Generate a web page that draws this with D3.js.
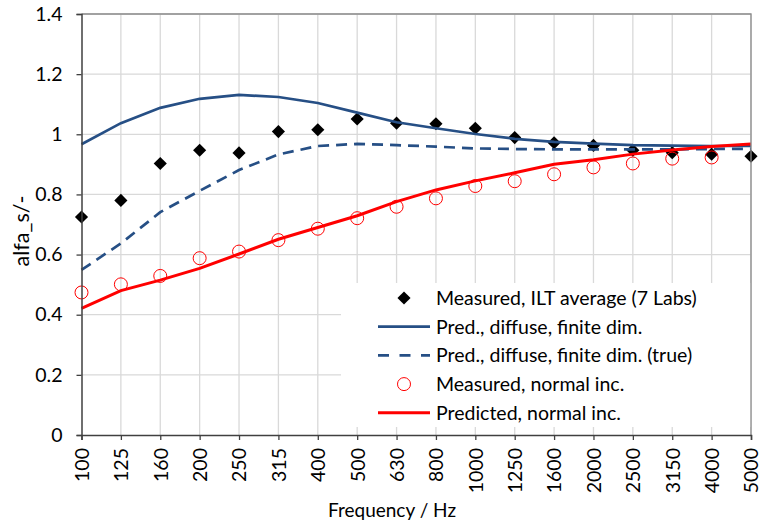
<!DOCTYPE html>
<html>
  <head>
    <meta charset="utf-8">
    <script src="https://d3js.org/d3.v7.min.js"></script>
    <style>
      body { margin: 0; background: #fff; }
      text { font-family: Lato, "Open Sans", sans-serif; fill: #000; }
    </style>
  </head>
  <body>
    <svg width="761" height="524"></svg>
    <script>
      var freqs = ["100", "125", "160", "200", "250", "315", "400", "500", "630", "800",
                   "1000", "1250", "1600", "2000", "2500", "3150", "4000", "5000"];
      var yTicks = [0, 0.2, 0.4, 0.6, 0.8, 1, 1.2, 1.4];

      var measuredILT = [0.725, 0.780, 0.903, 0.947, 0.938, 1.009, 1.015, 1.051, 1.037, 1.035,
                         1.020, 0.989, 0.972, 0.963, 0.947, 0.939, 0.934, 0.927];
      var predDiffuse = [0.967, 1.037, 1.088, 1.118, 1.131, 1.124, 1.104, 1.072, 1.040, 1.020,
                         1.001, 0.985, 0.975, 0.969, 0.964, 0.962, 0.961, 0.961];
      var predDiffuseTrue = [0.549, 0.637, 0.741, 0.812, 0.881, 0.933, 0.961, 0.968, 0.964, 0.959,
                             0.953, 0.951, 0.950, 0.950, 0.950, 0.950, 0.951, 0.952];
      var measuredNormal = [0.474, 0.501, 0.529, 0.588, 0.610, 0.648, 0.686, 0.721, 0.759, 0.787,
                            0.828, 0.844, 0.867, 0.890, 0.903, 0.919, 0.923];
      var predNormal = [0.421, 0.480, 0.515, 0.554, 0.602, 0.651, 0.690, 0.729, 0.776, 0.815,
                        0.845, 0.872, 0.900, 0.915, 0.934, 0.948, 0.959, 0.968];

      var legendLabels = ["Measured, ILT average (7 Labs)", "Pred., diffuse, finite dim.",
                          "Pred., diffuse, finite dim. (true)", "Measured, normal inc.",
                          "Predicted, normal inc."];

      var blue = "#264f85", red = "#ff0000";

      var svg = d3.select("svg"),
          plotL = 81.5, plotR = 751, plotT = 14, plotB = 435;

      var x = d3.scalePoint().domain(freqs).range([plotL, plotR]);
      var y = d3.scaleLinear().domain([0, 1.4]).range([plotB, plotT]);

      // grid
      svg.append("g").selectAll("line")
          .data(yTicks.slice(1))
        .enter().append("line")
          .attr("x1", plotL).attr("x2", plotR)
          .attr("y1", function(d) { return y(d); })
          .attr("y2", function(d) { return y(d); })
          .attr("stroke", "#d9d9d9").attr("stroke-width", 1.3);
      svg.append("g").selectAll("line")
          .data(freqs.slice(1))
        .enter().append("line")
          .attr("x1", function(d) { return x(d); })
          .attr("x2", function(d) { return x(d); })
          .attr("y1", plotT).attr("y2", plotB)
          .attr("stroke", "#d9d9d9").attr("stroke-width", 1.3);

      var line = d3.line()
          .x(function(d, i) { return x(freqs[i]); })
          .y(function(d) { return y(d); });

      var diamond = d3.symbol().type(d3.symbolDiamond2).size(110);

      // series
      svg.append("g").selectAll("path")
          .data(measuredILT)
        .enter().append("path")
          .attr("d", diamond)
          .attr("transform", function(d, i) { return "translate(" + x(freqs[i]) + "," + y(d) + ")"; })
          .attr("fill", "#000");

      svg.append("path").datum(predDiffuse)
          .attr("d", line).attr("fill", "none")
          .attr("stroke", blue).attr("stroke-width", 2.7);

      svg.append("path").datum(predDiffuseTrue)
          .attr("d", line).attr("fill", "none")
          .attr("stroke", blue).attr("stroke-width", 2.7)
          .attr("stroke-dasharray", "11,7");

      svg.append("g").selectAll("circle")
          .data(measuredNormal)
        .enter().append("circle")
          .attr("cx", function(d, i) { return x(freqs[i]); })
          .attr("cy", function(d) { return y(d); })
          .attr("r", 6.5)
          .attr("fill", "none").attr("stroke", red).attr("stroke-width", 1);

      svg.append("path").datum(predNormal)
          .attr("d", line).attr("fill", "none")
          .attr("stroke", red).attr("stroke-width", 3);

      // legend
      var lg = svg.append("g");
      lg.append("rect")
          .attr("x", 341).attr("y", 283)
          .attr("width", plotR - 341).attr("height", 144)
          .attr("fill", "#fff");
      var ly = function(i) { return 298 + i * 28.7; };
      lg.append("path").attr("d", diamond)
          .attr("transform", "translate(404," + ly(0) + ")");
      lg.append("line").attr("x1", 378).attr("x2", 430).attr("y1", ly(1)).attr("y2", ly(1))
          .attr("stroke", blue).attr("stroke-width", 2.7);
      lg.append("line").attr("x1", 378).attr("x2", 430).attr("y1", ly(2)).attr("y2", ly(2))
          .attr("stroke", blue).attr("stroke-width", 2.7).attr("stroke-dasharray", "11,10.5");
      lg.append("circle").attr("cx", 404).attr("cy", ly(3)).attr("r", 6.5)
          .attr("fill", "none").attr("stroke", red);
      lg.append("line").attr("x1", 378).attr("x2", 430).attr("y1", ly(4)).attr("y2", ly(4))
          .attr("stroke", red).attr("stroke-width", 3);
      lg.selectAll("text")
          .data(legendLabels)
        .enter().append("text")
          .attr("x", 436)
          .attr("y", function(d, i) { return ly(i); })
          .attr("dy", "0.35em")
          .style("font-size", "19.5px")
          .text(function(d) { return d; });

      // frame
      svg.append("path")
          .attr("d", "M" + plotL + "," + plotT + "H" + plotR + "V" + plotB)
          .attr("fill", "none").attr("stroke", "#8c8c8c").attr("stroke-width", 1.3);

      // axes
      var yAxis = svg.append("g")
          .attr("transform", "translate(" + plotL + ",0)")
          .call(d3.axisLeft(y).tickValues(yTicks).tickSize(5).tickPadding(14)
                .tickFormat(function(d) { return d3.format("~g")(d); }));
      var xAxis = svg.append("g")
          .attr("transform", "translate(0," + plotB + ")")
          .call(d3.axisBottom(x).tickSize(5));
      [yAxis, xAxis].forEach(function(a) {
        a.select(".domain").attr("stroke", "#404040").attr("stroke-width", 1.5);
        a.selectAll(".tick line").attr("stroke", "#404040").attr("stroke-width", 1.3);
        a.selectAll("text").style("font-size", "19.5px").attr("fill", "#000")
            .style("font-family", "Lato, sans-serif");
      });
      xAxis.selectAll("text")
          .attr("transform", "rotate(-90)")
          .attr("text-anchor", "end")
          .attr("x", -13).attr("y", 0).attr("dy", "0.35em");

      svg.append("text")
          .attr("x", 392).attr("y", 510).attr("dy", "0.35em")
          .attr("text-anchor", "middle")
          .style("font-size", "19px")
          .text("Frequency / Hz");
      svg.append("text")
          .attr("transform", "translate(21,231) rotate(-90)")
          .attr("dy", "0.35em")
          .attr("text-anchor", "middle")
          .style("font-size", "21.5px")
          .text("alfa_s/-");
    </script>
  </body>
</html>
